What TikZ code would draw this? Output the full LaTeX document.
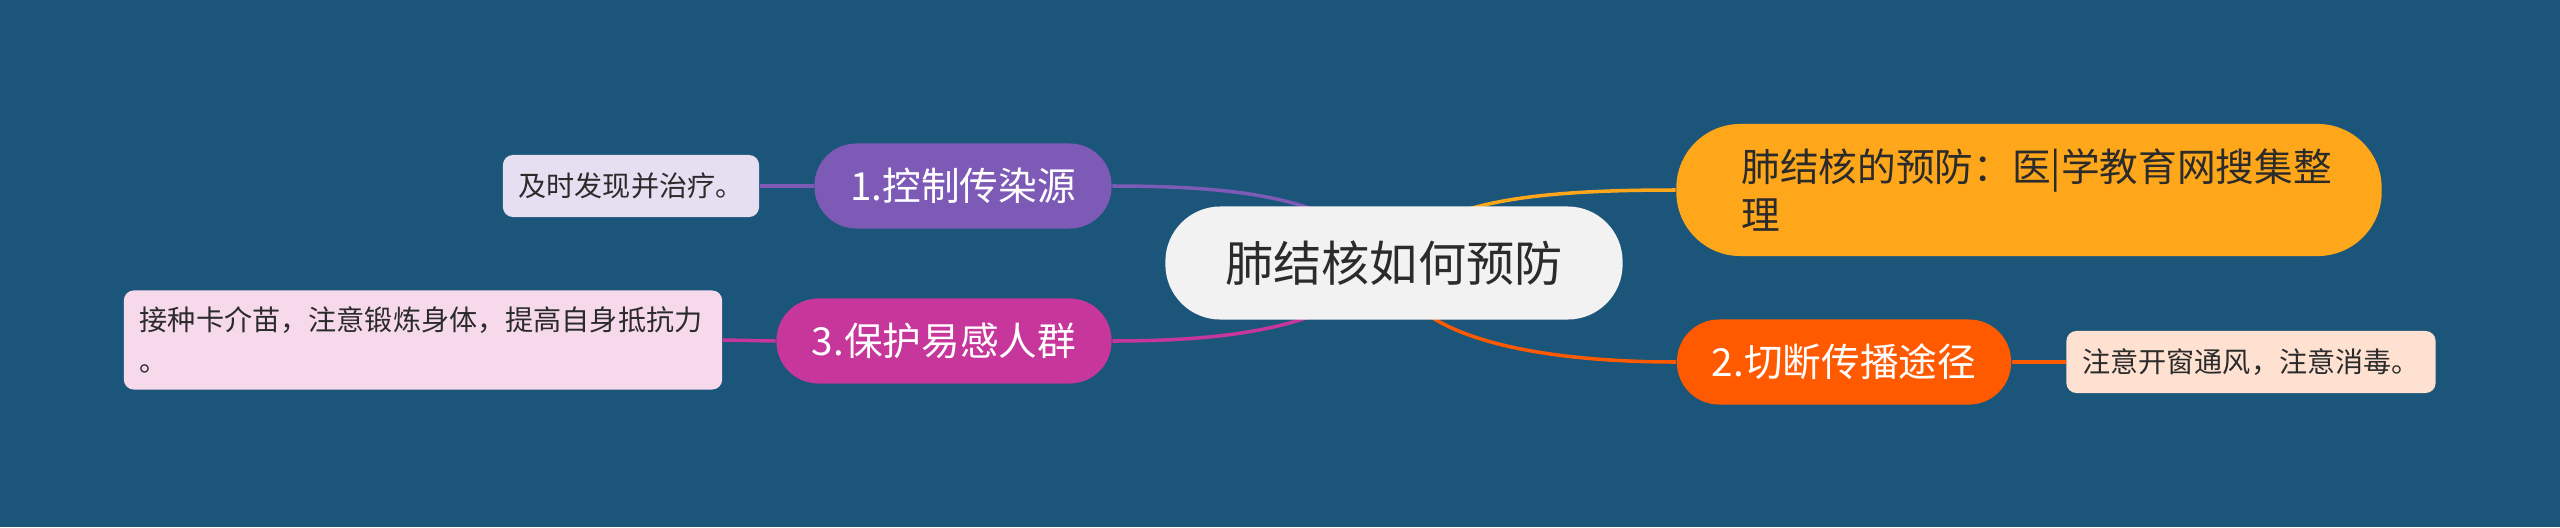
\documentclass[tikz,border=0pt]{standalone}
\usepackage{fontspec}
\setmainfont{Noto Sans CJK SC}
\usetikzlibrary{positioning}

\definecolor{bgblue}{HTML}{1B5579}
\definecolor{rootgray}{HTML}{F2F2F2}
\definecolor{srcpurple}{HTML}{7D5AB5}
\definecolor{srcleaf}{HTML}{E6DFF1}
\definecolor{notegold}{HTML}{FFA71B}
\definecolor{cutorange}{HTML}{FF5A00}
\definecolor{cutleaf}{HTML}{FFE1D2}
\definecolor{guardpink}{HTML}{C7369B}
\definecolor{guardleaf}{HTML}{F6D9EB}
\definecolor{inkdark}{HTML}{2B2B2B}

\pgfdeclarelayer{paper}
\pgfdeclarelayer{links}
\pgfsetlayers{paper,links,main}

\tikzset{
  rootbox/.style={fill=rootgray, text=inkdark, rounded corners=0.55cm,
    minimum width=4.57cm, minimum height=1.13cm,
    font=\fontsize{13.7pt}{16pt}\selectfont},
  branchbox/.style={fill=#1, text=white, rounded corners=0.42cm,
    minimum height=0.85cm, font=\fontsize{11pt}{13pt}\selectfont},
  leafbox/.style={fill=#1, text=inkdark, rounded corners=0.1cm,
    minimum height=0.62cm, font=\fontsize{8pt}{11.7pt}\selectfont},
  link/.style={draw=#1, line width=1pt}
}

\begin{document}
\begin{tikzpicture}[x=0.01cm, y=-0.01cm]
\begin{pgfonlayer}{paper}
\fill[bgblue] (0,0) rectangle (2560,527);
\end{pgfonlayer}
\useasboundingbox (0,0) rectangle (2560,527);

% centre
\node[rootbox] (root) at (1394,263) {肺结核如何预防};

% right side
\node[branchbox=notegold, text=inkdark, rounded corners=0.64cm, minimum width=7.05cm,
  minimum height=1.32cm, align=left, text width=5.75cm, inner xsep=0.65cm,
  font=\fontsize{11pt}{13.4pt}\selectfont]
  (note) at (2029,190) {肺结核的预防：医|学教育网搜集整\\理};
\node[branchbox=cutorange, minimum width=3.34cm] (cut) at (1844,362) {2.切断传播途径};
\node[leafbox=cutleaf, minimum width=3.69cm] (cutleaf) at (2251,362) {注意开窗通风，注意消毒。};

% left side
\node[branchbox=srcpurple, minimum width=2.97cm] (src) at (963,186) {1.控制传染源};
\node[leafbox=srcleaf, minimum width=2.56cm] (srcleaf) at (631,186) {及时发现并治疗。};
\node[branchbox=guardpink, minimum width=3.35cm] (guard) at (944,341) {3.保护易感人群};
\node[leafbox=guardleaf, minimum width=5.98cm, minimum height=0.99cm, align=left,
  text width=5.66cm] (guardleaf) at (423,340) {接种卡介苗，注意锻炼身体，提高自身抵抗力\\。};

\begin{pgfonlayer}{links}
\draw[link=srcpurple] (root.center) .. controls (1340,200) and (1250,186) .. (src.east);
\draw[link=notegold] (root.center) .. controls (1420,200) and (1540,190) .. (note.west);
\draw[link=cutorange] (root.center) .. controls (1400,335) and (1530,362) .. (cut.west);
\draw[link=guardpink] (root.center) .. controls (1340,325) and (1240,341) .. (guard.east);
\draw[link=srcpurple] (src.west) -- (srcleaf.east);
\draw[link=cutorange] (cut.east) -- (cutleaf.west);
\draw[link=guardpink] (guard.west) -- (guardleaf.east);
\end{pgfonlayer}
\end{tikzpicture}
\end{document}
